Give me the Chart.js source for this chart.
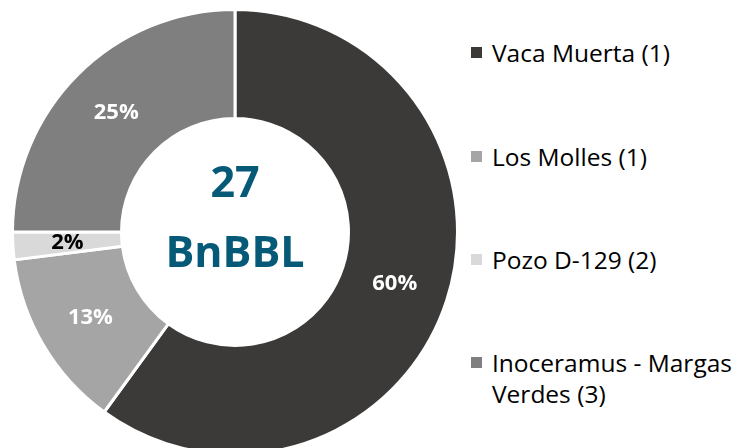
<!DOCTYPE html>
<html>
<head>
<meta charset="utf-8">
<script src="https://cdn.jsdelivr.net/npm/chart.js@4"></script>
<style>
  html, body { margin: 0; padding: 0; background: #fff; overflow: hidden; }
  #wrap { position: relative; width: 735px; height: 448px; overflow: hidden; }
  #cv { position: absolute; left: 11px; top: 8px; }
  .leg { position: absolute; left: 471px; font-family: "Open Sans", sans-serif; font-size: 24.5px; color: #000; line-height: 31px; }
  .leg .sq { position: absolute; left: 0; top: 10px; width: 11px; height: 11px; }
  .leg .tx { position: absolute; left: 21px; white-space: nowrap; }
</style>
</head>
<body>
<div id="wrap">
  <canvas id="cv" width="448" height="448"></canvas>
  <div id="legend"></div>
</div>
<script>
const categories = ["Vaca Muerta (1)", "Los Molles (1)", "Pozo D-129 (2)", "Inoceramus - Margas Verdes (3)"];
const legendLines = [["Vaca Muerta (1)"], ["Los Molles (1)"], ["Pozo D-129 (2)"], ["Inoceramus - Margas", "Verdes (3)"]];
const shares = [60, 13, 2, 25];
const percentLabels = ["60%", "13%", "2%", "25%"];
const centerLines = ["27", "BnBBL"];
const colors = ["#3b3a39", "#a5a5a5", "#d9d9d9", "#7f7f7f"];
const labelColors = ["#ffffff", "#ffffff", "#000000", "#ffffff"];
const legendTops = [37, 141, 244, 347];

const labelPlugin = {
  id: 'labels',
  afterDatasetsDraw(chart) {
    const ctx = chart.ctx;
    const meta = chart.getDatasetMeta(0);
    ctx.save();
    ctx.textAlign = 'center';
    ctx.textBaseline = 'middle';
    ctx.font = 'bold 22px "Open Sans"';
    meta.data.forEach((arc, i) => {
      const p = arc.getProps(['startAngle', 'endAngle', 'innerRadius', 'outerRadius', 'x', 'y'], true);
      const a = (p.startAngle + p.endAngle) / 2;
      const r = (p.innerRadius + p.outerRadius) / 2;
      ctx.fillStyle = labelColors[i];
      ctx.fillText(percentLabels[i], p.x + Math.cos(a) * r, p.y + Math.sin(a) * r);
    });
    const c = meta.data[0];
    ctx.fillStyle = '#065a78';
    ctx.font = 'bold 43px "Open Sans"';
    ctx.textBaseline = 'alphabetic';
    ctx.fillText(centerLines[0], c.x, c.y - 35);
    ctx.fillText(centerLines[1], c.x, c.y + 35);
    ctx.restore();
  }
};

new Chart(document.getElementById('cv'), {
  type: 'doughnut',
  data: {
    labels: categories,
    datasets: [{
      data: shares,
      backgroundColor: colors,
      borderColor: '#ffffff',
      borderWidth: 3,
      hoverOffset: 0
    }]
  },
  options: {
    responsive: false,
    animation: false,
    cutout: '51%',
    layout: { padding: 0 },
    plugins: { legend: { display: false }, tooltip: { enabled: false } }
  },
  plugins: [labelPlugin]
});

const legend = document.getElementById('legend');
legendLines.forEach((lines, i) => {
  const d = document.createElement('div');
  d.className = 'leg';
  d.style.top = legendTops[i] + 'px';
  const sq = document.createElement('div');
  sq.className = 'sq';
  sq.style.background = colors[i];
  d.appendChild(sq);
  lines.forEach((t, j) => {
    const s = document.createElement('div');
    s.className = 'tx';
    s.style.top = (j * 31) + 'px';
    s.textContent = t;
    d.appendChild(s);
  });
  legend.appendChild(d);
});
</script>
</body>
</html>
